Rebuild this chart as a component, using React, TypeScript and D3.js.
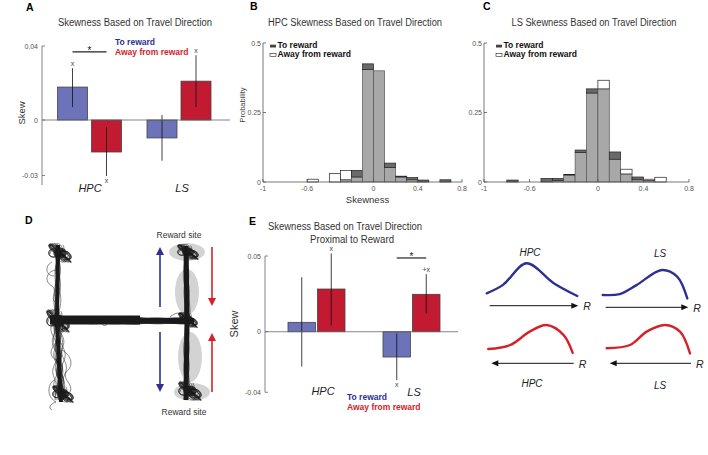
import React from "react";
import * as d3 from "d3";

// mean skew by travel direction (panels A and E)
const regions = ["HPC", "LS"];
const directions = ["toReward", "awayFromReward"];

const skewA_to = [0.0178, -0.0097];
const skewA_away = [-0.0173, 0.021];
const errA_to = [[0.007, 0.028], [-0.022, 0.0027]];
const errA_away = [[-0.0303, -0.0038], [0.007, 0.035]];
const marksA_to = ["x", ""];
const marksA_away = ["x", "x"];
const ticksA = [-0.03, 0, 0.04];

const skewE_to = [0.0062, -0.0167];
const skewE_away = [0.0282, 0.0247];
const errE_to = [[-0.023, 0.036], [-0.032, -0.001]];
const errE_away = [[0.0042, 0.0517], [0.012, 0.038]];
const marksE_to = ["", "x"];
const marksE_away = ["x", "+x"];
const ticksE = [-0.04, 0, 0.05];

// skewness histograms (panels B and C), bins of 0.1 starting at -1
const binStarts = [-1, -0.9, -0.8, -0.7, -0.6, -0.5, -0.4, -0.3, -0.2, -0.1, 0, 0.1, 0.2, 0.3, 0.4, 0.5, 0.6, 0.7];
const hpcToReward = [0, 0, 0, 0, 0, 0, 0, 0.008, 0.042, 0.425, 0.4, 0.068, 0.021, 0.016, 0.007, 0, 0.008, 0];
const hpcAway = [0, 0, 0, 0, 0.01, 0, 0.03, 0.041, 0.018, 0.405, 0.4, 0.052, 0.018, 0.008, 0, 0, 0, 0];
const lsToReward = [0, 0, 0.007, 0, 0, 0.013, 0.013, 0.025, 0.115, 0.335, 0.335, 0.108, 0.029, 0.018, 0.005, 0, 0, 0];
const lsAway = [0, 0, 0, 0, 0, 0, 0.005, 0.027, 0.106, 0.32, 0.366, 0.082, 0.046, 0.008, 0.01, 0.017, 0, 0];
const probTicks = [0, 0.25, 0.5];
const skewTicks = [-1, -0.6, 0, 0.4, 0.8];

// schematic field shapes (position along track, relative height)
const hpcTowardShape = [[0, 0.11], [0.18, 0.36], [0.44, 1], [0.74, 0.41], [1, 0.03]];
const lsTowardShape = [[0, 0.14], [0.2, 0.17], [0.4, 0.48], [0.7, 1], [0.88, 0.77], [1, 0.02]];
const hpcAwayShape = [[0, 0.17], [0.26, 0.31], [0.49, 0.77], [0.69, 1], [0.89, 0.66], [1, 0.04]];
const lsAwayShape = [[0, 0.2], [0.28, 0.31], [0.48, 0.77], [0.7, 1], [0.88, 0.77], [1, 0.02]];

const BLUE_BAR = "#6c73b9";
const RED_BAR = "#c21a30";
const BLUE_TXT = "#2e3192";
const RED_TXT = "#d2232a";
const FONT = "'Liberation Sans', Arial, sans-serif";

function SkewBars(props) {
  const { axisX, zeroEnd, yDomain, yRange, axisBottom, centers, barW, gap, to, away, errTo, errAway, marksTo, marksAway, ticks, sig } = props;
  const y = d3.scaleLinear().domain(yDomain).range(yRange);
  const gx = d3.scalePoint().domain(regions).range(centers);
  const sub = d3.scaleOrdinal().domain(directions).range([-(gap / 2 + barW), gap / 2]);
  const series = [
    { dir: directions[0], vals: to, errs: errTo, marks: marksTo, fill: BLUE_BAR },
    { dir: directions[1], vals: away, errs: errAway, marks: marksAway, fill: RED_BAR },
  ];
  const top = y(yDomain[1]);
  return (
    <g>
      <line x1={axisX} x2={axisX} y1={top} y2={axisBottom} stroke="#666" strokeWidth={0.8} />
      {ticks.map(t => (
        <g key={t}>
          <line x1={axisX} x2={axisX + 3} y1={y(t)} y2={y(t)} stroke="#666" strokeWidth={0.8} />
          <text x={axisX - 4} y={y(t) + 2.5} fontSize={7} fill="#555" textAnchor="end">{t}</text>
        </g>
      ))}
      {series.map(s =>
        regions.map((r, i) => {
          const x0 = gx(r) + sub(s.dir);
          const v = s.vals[i];
          const cx = x0 + barW / 2;
          const [lo, hi] = s.errs[i];
          const mark = s.marks[i];
          return (
            <g key={s.dir + r}>
              <rect x={x0} y={Math.min(y(v), y(0))} width={barW} height={Math.abs(y(v) - y(0))}
                fill={s.fill} stroke="#444" strokeWidth={0.8} />
              <line x1={cx} x2={cx} y1={y(lo)} y2={y(hi)} stroke="#111" strokeWidth={0.8} />
              {mark && (
                <text x={cx} y={v > 0 ? y(hi) - 2 : y(lo) + 7} fontSize={7} fill="#444" textAnchor="middle">{mark}</text>
              )}
            </g>
          );
        })
      )}
      <line x1={axisX} x2={zeroEnd} y1={y(0)} y2={y(0)} stroke="#666" strokeWidth={0.8} />
      {sig && (() => {
        const x1 = gx(sig.group) + sub(directions[0]) + barW / 2;
        const x2 = gx(sig.group) + sub(directions[1]) + barW / 2;
        return (
          <g>
            <line x1={x1} x2={x2} y1={y(sig.y)} y2={y(sig.y)} stroke="#222" strokeWidth={1.2} />
            <text x={(x1 + x2) / 2} y={y(sig.y) + 2} fontSize={10} fill="#222" textAnchor="middle">*</text>
          </g>
        );
      })()}
    </g>
  );
}

function Histogram(props) {
  const { xRange, to, away, legendX, xLabel } = props;
  const x = d3.scaleLinear().domain([-1, 0.8]).range(xRange);
  const y = d3.scaleLinear().domain([0, 0.5]).range([182, 43]);
  const axisX = xRange[0];
  return (
    <g>
      {binStarts.map((b, i) => {
        const x0 = x(b);
        const w = x(b + 0.1) - x0;
        const lo = Math.min(to[i], away[i]);
        const hi = Math.max(to[i], away[i]);
        return (
          <g key={b}>
            {lo > 0 && <rect x={x0} y={y(lo)} width={w} height={y(0) - y(lo)} fill="#a8a8a8" stroke="#555" strokeWidth={0.7} />}
            {hi > lo && <rect x={x0} y={y(hi)} width={w} height={y(lo) - y(hi)}
              fill={to[i] > away[i] ? "#6a6a6a" : "#fff"} stroke="#222" strokeWidth={0.7} />}
          </g>
        );
      })}
      <line x1={axisX} x2={axisX} y1={y(0.5)} y2={y(0)} stroke="#555" strokeWidth={0.8} />
      <line x1={axisX} x2={xRange[1]} y1={y(0)} y2={y(0)} stroke="#555" strokeWidth={0.8} />
      {probTicks.map(t => (
        <g key={t}>
          <line x1={axisX} x2={axisX + 3} y1={y(t)} y2={y(t)} stroke="#555" strokeWidth={0.8} />
          <text x={axisX - 2} y={y(t) + 2.5} fontSize={7} fill="#555" textAnchor="end">{t}</text>
        </g>
      ))}
      {skewTicks.map(t => (
        <g key={t}>
          <line x1={x(t)} x2={x(t)} y1={y(0)} y2={y(0) - 3} stroke="#555" strokeWidth={0.8} />
          <text x={x(t)} y={y(0) + 8.5} fontSize={7} fill="#555" textAnchor="middle">{t}</text>
        </g>
      ))}
      <rect x={legendX} y={44.7} width={6} height={2.8} fill="#444" />
      <text x={legendX + 7.5} y={48.3} fontSize={8.5} fontWeight="bold" fill="#111">To reward</text>
      <rect x={legendX} y={53.5} width={6} height={2.8} fill="#fff" stroke="#222" strokeWidth={0.6} />
      <text x={legendX + 7.5} y={57.3} fontSize={8.5} fontWeight="bold" fill="#111">Away from reward</text>
      {xLabel && <text x={(xRange[0] + xRange[1]) / 2 + 5} y={203} fontSize={9.5} fill="#333" textAnchor="middle">Skewness</text>}
    </g>
  );
}

// jittered strands along the arms of the maze
const mazeArms = [
  { p: [58, 245, 57, 320], spread: 3, n: 10, core: 4, f: 7 },
  { p: [57, 320, 61, 402], spread: 6, n: 14, core: 4, f: 6 },
  { p: [50, 320, 194, 321], spread: 3.5, n: 16, core: 6, f: 10 },
  { p: [50, 320, 140, 320], spread: 2, n: 6, core: 9, f: 12 },
  { p: [186, 246, 187, 320], spread: 2.6, n: 12, core: 5, f: 8 },
  { p: [187, 320, 186, 400], spread: 2.6, n: 12, core: 5, f: 8 },
];
// dense tangles at the arm ends and junctions: cx, cy, rx, ry
const mazeBlobs = [[60, 253, 12, 10], [58, 321, 12, 12], [188, 252, 11, 8], [188, 320, 10, 8], [190, 391, 12, 10], [63, 394, 11, 9]];

function strandPath(p, spread, k, n, f) {
  const [x0, y0, x1, y1] = p;
  const len = Math.hypot(x1 - x0, y1 - y0);
  const nx = -(y1 - y0) / len, ny = (x1 - x0) / len;
  const pts = d3.range(0, 1.0001, 2.5 / len).map(t => {
    const off = spread * (((k / (n - 1)) * 2 - 1) * 0.7 + 0.5 * Math.sin(t * len / f + k * 2.1) * Math.cos(t * len / (f * 2.7) + k));
    return [x0 + (x1 - x0) * t + nx * off, y0 + (y1 - y0) * t + ny * off];
  });
  return d3.line().curve(d3.curveCatmullRom)(pts);
}

function blobPath(b, k) {
  const [cx, cy, rx, ry] = b;
  const pts = d3.range(0, 2 * Math.PI * 2, 0.3).map(a => {
    const r = 0.5 + 0.45 * Math.sin(a * 2.3 + k * 1.7);
    return [cx + rx * r * Math.cos(a + k), cy + ry * r * Math.sin(a * 1.3 + k)];
  });
  return d3.line().curve(d3.curveCatmullRom)(pts);
}

function Maze() {
  const arrow = (x, yFrom, yTo, color) => {
    const dir = yTo > yFrom ? 1 : -1;
    return (
      <g>
        <line x1={x} x2={x} y1={yFrom} y2={yTo - dir * 7} stroke={color} strokeWidth={1.6} />
        <path d={`M${x - 4},${yTo - dir * 8} L${x + 4},${yTo - dir * 8} L${x},${yTo} Z`} fill={color} />
      </g>
    );
  };
  return (
    <g>
      <ellipse cx={187} cy={252} rx={18} ry={9} fill="#d3d3d3" />
      <ellipse cx={187} cy={292} rx={12} ry={23} fill="#d3d3d3" />
      <ellipse cx={190} cy={357} rx={12} ry={25} fill="#d3d3d3" />
      <ellipse cx={192} cy={392} rx={18} ry={9} fill="#d3d3d3" />
      {mazeBlobs.map((b, i) => (
        <ellipse key={"f" + i} cx={b[0]} cy={b[1]} rx={b[2] * 0.55} ry={b[3] * 0.55} fill="#1a1a1a" opacity={0.85} />
      ))}
      {mazeArms.map((a, i) => (
        <g key={i}>
          <line x1={a.p[0]} y1={a.p[1]} x2={a.p[2]} y2={a.p[3]} stroke="#1a1a1a" strokeWidth={a.core} />
          {d3.range(a.n).map(k => (
            <path key={k} d={strandPath(a.p, a.spread, k, a.n, a.f)} fill="none" stroke="#1a1a1a" strokeWidth={0.5} />
          ))}
        </g>
      ))}
      {mazeBlobs.map((b, i) => (
        <g key={i}>
          {d3.range(7).map(k => (
            <path key={k} d={blobPath(b, k)} fill="none" stroke="#1a1a1a" strokeWidth={0.5} />
          ))}
        </g>
      ))}
      <path d="M55,270 C46,272 44,282 52,286 C58,290 50,298 55,302" fill="none" stroke="#111" strokeWidth={0.5} />
      <path d="M52,262 C44,266 46,276 54,276" fill="none" stroke="#111" strokeWidth={0.5} />
      <path d="M60,340 C50,346 48,356 56,360 C64,364 52,372 58,378" fill="none" stroke="#111" strokeWidth={0.5} />
      <path d="M62,350 C72,356 74,366 66,372 C62,380 74,384 70,392" fill="none" stroke="#111" strokeWidth={0.5} />
      <path d="M54,380 C46,386 48,398 56,402 C50,404 48,408 52,410" fill="none" stroke="#111" strokeWidth={0.5} />
      <path d="M100,321 C102,326 106,327 108,323" fill="none" stroke="#111" strokeWidth={0.5} />
      <path d="M170,317 C176,312 180,312 184,316" fill="none" stroke="#111" strokeWidth={0.5} />
      {arrow(160, 307, 247, BLUE_TXT)}
      {arrow(160, 332, 392, BLUE_TXT)}
      {arrow(212, 247, 306, RED_TXT)}
      {arrow(212, 392, 333, RED_TXT)}
      <text x={179} y={238} fontSize={8.5} fill="#333" textAnchor="middle">Reward site</text>
      <text x={184} y={415} fontSize={8.5} fill="#333" textAnchor="middle">Reward site</text>
    </g>
  );
}

function FieldSketch(props) {
  const { x0, x1, base, height, shape, color, arrowY, leftward } = props;
  const sx = d3.scaleLinear().domain([0, 1]).range([x0, x1]);
  const sy = d3.scaleLinear().domain([0, 1]).range([base, base - height]);
  const path = d3.line().x(d => sx(d[0])).y(d => sy(d[1])).curve(d3.curveCatmullRom)(shape);
  const ax0 = leftward ? x1 + 1 : x0 + 3;
  const ax1 = leftward ? x0 + 3 : x1 + 1;
  const dir = ax1 > ax0 ? 1 : -1;
  return (
    <g>
      <path d={path} fill="none" stroke={color} strokeWidth={2.4} strokeLinecap="round" />
      <line x1={ax0} x2={ax1 - dir * 6} y1={arrowY} y2={arrowY} stroke="#111" strokeWidth={1} />
      <path d={`M${ax1 - dir * 7},${arrowY - 3} L${ax1},${arrowY} L${ax1 - dir * 7},${arrowY + 3} Z`} fill="#111" />
      <text x={Math.max(ax0, ax1) + 5} y={arrowY + 4.5} fontSize={10.5} fontStyle="italic" fill="#222">R</text>
    </g>
  );
}

export default function App() {
  return (
    <svg width={708} height={455} style={{ position: "absolute", left: 0, top: 0, background: "#fff" }} fontFamily={FONT}>
      {/* panel letters */}
      <text x={26} y={11} fontSize={10.5} fontWeight="bold">A</text>
      <text x={250} y={10} fontSize={10.5} fontWeight="bold">B</text>
      <text x={483} y={10} fontSize={10.5} fontWeight="bold">C</text>
      <text x={25} y={224} fontSize={10.5} fontWeight="bold">D</text>
      <text x={249} y={225} fontSize={10.5} fontWeight="bold">E</text>

      {/* A */}
      <text x={135} y={26} fontSize={10} fill="#333" textAnchor="middle" textLength={154} lengthAdjust="spacingAndGlyphs">Skewness Based on Travel Direction</text>
      <SkewBars axisX={42} zeroEnd={230} yDomain={[-0.03, 0.04]} yRange={[175.5, 46]} axisBottom={185}
        centers={[89.5, 179]} barW={30} gap={4} to={skewA_to} away={skewA_away} errTo={errA_to} errAway={errA_away}
        marksTo={marksA_to} marksAway={marksA_away} ticks={ticksA} sig={{ group: "HPC", y: 0.0368 }} />
      <text x={115} y={45} fontSize={8.5} fontWeight="bold" fill={BLUE_TXT}>To reward</text>
      <text x={115} y={55} fontSize={8.5} fontWeight="bold" fill={RED_TXT}>Away from reward</text>
      <text transform="translate(25,113) rotate(-90)" fontSize={9.5} fill="#333" textAnchor="middle">Skew</text>
      <text x={90} y={192} fontSize={11} fontStyle="italic" fill="#222" textAnchor="middle">HPC</text>
      <text x={182} y={192} fontSize={11} fontStyle="italic" fill="#222" textAnchor="middle">LS</text>

      {/* B */}
      <text x={355} y={26} fontSize={10} fill="#333" textAnchor="middle" textLength={174} lengthAdjust="spacingAndGlyphs">HPC Skewness Based on Travel Direction</text>
      <Histogram xRange={[263, 462]} to={hpcToReward} away={hpcAway} legendX={270} xLabel />
      <text transform="translate(245,105) rotate(-90)" fontSize={7.5} fill="#444" textAnchor="middle">Probability</text>

      {/* C */}
      <text x={594} y={26} fontSize={10} fill="#333" textAnchor="middle" textLength={165} lengthAdjust="spacingAndGlyphs">LS Skewness Based on Travel Direction</text>
      <Histogram xRange={[484, 689]} to={lsToReward} away={lsAway} legendX={496} xLabel={false} />

      {/* D */}
      <Maze />

      {/* E */}
      <text x={345} y={230} fontSize={10} fill="#333" textAnchor="middle" textLength={154} lengthAdjust="spacingAndGlyphs">Skewness Based on Travel Direction</text>
      <text x={352} y={242.5} fontSize={10} fill="#333" textAnchor="middle" textLength={84} lengthAdjust="spacingAndGlyphs">Proximal to Reward</text>
      <SkewBars axisX={265} zeroEnd={458} yDomain={[-0.04, 0.05]} yRange={[392.3, 256]} axisBottom={392.3}
        centers={[316.5, 411.5]} barW={27.5} gap={2} to={skewE_to} away={skewE_away} errTo={errE_to} errAway={errE_away}
        marksTo={marksE_to} marksAway={marksE_away} ticks={ticksE} sig={{ group: "LS", y: 0.0487 }} />
      <text transform="translate(238,324) rotate(-90)" fontSize={11} fill="#333" textAnchor="middle">Skew</text>
      <text x={323} y={395} fontSize={11} fontStyle="italic" fill="#222" textAnchor="middle">HPC</text>
      <text x={414} y={396} fontSize={11} fontStyle="italic" fill="#222" textAnchor="middle">LS</text>
      <text x={347} y={400} fontSize={8.5} fontWeight="bold" fill={BLUE_TXT}>To reward</text>
      <text x={347} y={410} fontSize={8.5} fontWeight="bold" fill={RED_TXT}>Away from reward</text>

      {/* schematic */}
      <text x={530} y={256} fontSize={10} fontStyle="italic" fill="#222" textAnchor="middle">HPC</text>
      <text x={660} y={257} fontSize={10} fontStyle="italic" fill="#222" textAnchor="middle">LS</text>
      <FieldSketch x0={486.7} x1={577.3} base={297} height={33.7} shape={hpcTowardShape} color={BLUE_TXT} arrowY={305.7} />
      <FieldSketch x0={602.7} x1={687.3} base={299} height={29} shape={lsTowardShape} color={BLUE_TXT} arrowY={307.3} />
      <FieldSketch x0={488.3} x1={572.7} base={354} height={29} shape={hpcAwayShape} color={RED_TXT} arrowY={363.3} leftward />
      <FieldSketch x0={606.7} x1={690} base={354} height={29} shape={lsAwayShape} color={RED_TXT} arrowY={363.3} leftward />
      <text x={532} y={387} fontSize={10} fontStyle="italic" fill="#222" textAnchor="middle">HPC</text>
      <text x={660} y={389} fontSize={10} fontStyle="italic" fill="#222" textAnchor="middle">LS</text>
    </svg>
  );
}
